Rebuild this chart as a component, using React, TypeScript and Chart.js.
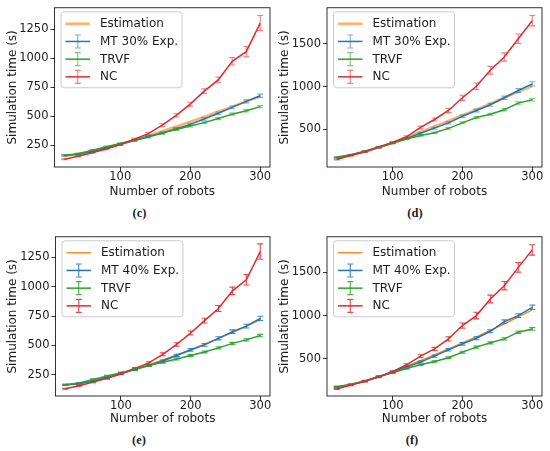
import React, { useEffect, useRef } from "react";
import { Chart, registerables } from "chart.js";

Chart.register(...registerables);

// ---------- data ----------
const robots = [20, 40, 60, 80, 100, 120, 140, 160, 180, 200, 220, 240, 260, 280, 300];
const xTicks = [100, 200, 300];
const yTicksSmall = [250, 500, 750, 1000, 1250];
const yTicksLarge = [500, 1000, 1500];

// (c)
const estC = [160, 177, 200, 228, 260, 295, 333, 372, 413, 455, 497, 540, 585, 630, 672];
const mtC = [165, 175, 198, 228, 260, 292, 323, 358, 395, 432, 478, 528, 578, 630, 678];
const mtErrC = [5, 5, 6, 6, 7, 7, 8, 8, 9, 10, 10, 11, 12, 13, 14];
const trvfC = [165, 180, 210, 240, 268, 297, 330, 357, 388, 418, 447, 482, 520, 550, 585];
const trvfErrC = [5, 5, 6, 6, 6, 7, 7, 7, 8, 8, 8, 9, 9, 10, 10];
const ncC = [132, 158, 188, 220, 258, 305, 352, 425, 509, 606, 718, 815, 975, 1058, 1304];
const ncErrC = [4, 5, 5, 6, 7, 8, 10, 12, 14, 17, 20, 25, 32, 45, 65];

// (d)
const estD = [160, 195, 240, 290, 345, 405, 470, 535, 600, 665, 730, 800, 870, 940, 1005];
const mtD = [170, 200, 240, 290, 345, 395, 455, 515, 577, 654, 721, 788, 869, 954, 1031];
const mtErrD = [6, 6, 7, 8, 9, 10, 11, 12, 13, 15, 16, 18, 20, 22, 25];
const trvfD = [178, 205, 245, 292, 340, 388, 430, 461, 512, 577, 639, 677, 730, 807, 846];
const trvfErrD = [6, 6, 7, 7, 8, 8, 9, 9, 10, 11, 12, 12, 13, 14, 15];
const ncD = [150, 198, 240, 296, 348, 414, 523, 616, 721, 869, 1003, 1190, 1345, 1558, 1768];
const ncErrD = [5, 6, 7, 8, 10, 12, 16, 18, 25, 30, 38, 45, 48, 55, 60];

// (e)
const estE = [160, 177, 200, 228, 260, 296, 335, 377, 420, 465, 512, 560, 610, 662, 720];
const mtE = [165, 175, 195, 225, 262, 295, 330, 368, 415, 462, 505, 561, 618, 665, 731];
const mtErrE = [5, 5, 6, 6, 7, 8, 8, 9, 10, 11, 12, 13, 15, 16, 18];
const trvfE = [165, 180, 210, 240, 268, 297, 330, 357, 385, 415, 445, 480, 518, 548, 585];
const trvfErrE = [5, 5, 6, 6, 6, 7, 7, 7, 8, 8, 8, 9, 9, 10, 10];
const ncE = [132, 158, 188, 220, 258, 305, 352, 425, 509, 606, 712, 815, 965, 1060, 1300];
const ncErrE = [4, 5, 5, 6, 7, 8, 10, 12, 14, 17, 20, 25, 32, 45, 65];

// (f)
const estF = [160, 195, 240, 292, 350, 412, 478, 545, 615, 685, 755, 830, 905, 985, 1065];
const mtF = [172, 200, 240, 290, 350, 405, 462, 531, 604, 673, 738, 819, 931, 1000, 1096];
const mtErrF = [6, 6, 7, 8, 9, 10, 11, 12, 14, 15, 17, 18, 20, 22, 25];
const trvfF = [178, 205, 245, 292, 340, 388, 431, 469, 512, 577, 635, 685, 731, 808, 846];
const trvfErrF = [6, 6, 7, 7, 8, 8, 9, 9, 10, 11, 12, 12, 13, 14, 15];
const ncF = [150, 196, 240, 295, 350, 431, 531, 615, 731, 885, 1000, 1192, 1346, 1558, 1760];
const ncErrF = [5, 6, 7, 8, 10, 12, 16, 18, 25, 30, 38, 45, 48, 55, 60];

// ---------- styling ----------
const FONT = "'DejaVu Sans', sans-serif";
const TEXT = "#1c1c1c";
const BLUE = "#1f77b4";
const GREEN = "#2ca02c";
const RED = "#e02a2e";
const LINE_W = 1.5;

type PanelDef = {
  caption: string;
  mtLabel: string;
  est: number[];
  mt: number[];
  mtErr: number[];
  trvf: number[];
  trvfErr: number[];
  nc: number[];
  ncErr: number[];
  yMin: number;
  yMax: number;
  yTicks: number[];
  left: number;
  top: number;
  width: number;
  height: number;
  yAxisWidth: number;
  xAxisHeight: number;
  padTop: number;
  padRight: number;
  yTitlePad: number;
  estColor: string;
  estWidth: number;
  errAlpha: number;
  captionX: number;
  captionY: number;
};

function rgba(hex: string, a: number) {
  const r = parseInt(hex.slice(1, 3), 16);
  const g = parseInt(hex.slice(3, 5), 16);
  const b = parseInt(hex.slice(5, 7), 16);
  return `rgba(${r},${g},${b},${a})`;
}

const panels: PanelDef[] = [
  {
    caption: "(c)", mtLabel: "MT 30% Exp.",
    est: estC, mt: mtC, mtErr: mtErrC, trvf: trvfC, trvfErr: trvfErrC, nc: ncC, ncErr: ncErrC,
    yMin: 65, yMax: 1436, yTicks: yTicksSmall,
    left: 0, top: 0, width: 275, height: 199, yAxisWidth: 54.5, xAxisHeight: 32, padTop: 7, padRight: 5, yTitlePad: 5.4,
    estColor: "rgba(255,127,14,0.6)", estWidth: 2.6, errAlpha: 0.6, captionX: 139.5, captionY: 213,
  },
  {
    caption: "(d)", mtLabel: "MT 30% Exp.",
    est: estD, mt: mtD, mtErr: mtErrD, trvf: trvfD, trvfErr: trvfErrD, nc: ncD, ncErr: ncErrD,
    yMin: 62, yMax: 1919, yTicks: yTicksLarge,
    left: 275, top: 0, width: 275, height: 199, yAxisWidth: 52, xAxisHeight: 32, padTop: 7, padRight: 8, yTitlePad: 2.7,
    estColor: "rgba(255,127,14,0.6)", estWidth: 2.6, errAlpha: 0.6, captionX: 415, captionY: 213,
  },
  {
    caption: "(e)", mtLabel: "MT 40% Exp.",
    est: estE, mt: mtE, mtErr: mtErrE, trvf: trvfE, trvfErr: trvfErrE, nc: ncE, ncErr: ncErrE,
    yMin: 70, yMax: 1426, yTicks: yTicksSmall,
    left: 0, top: 229, width: 275, height: 197, yAxisWidth: 55.5, xAxisHeight: 30, padTop: 7, padRight: 5, yTitlePad: 5.4,
    estColor: "#ff7f0e", estWidth: 1.3, errAlpha: 0.85, captionX: 139, captionY: 440,
  },
  {
    caption: "(f)", mtLabel: "MT 40% Exp.",
    est: estF, mt: mtF, mtErr: mtErrF, trvf: trvfF, trvfErr: trvfErrF, nc: ncF, ncErr: ncErrF,
    yMin: 70, yMax: 1912, yTicks: yTicksLarge,
    left: 275, top: 229, width: 275, height: 197, yAxisWidth: 52, xAxisHeight: 30, padTop: 7, padRight: 8, yTitlePad: 2.7,
    estColor: "#ff7f0e", estWidth: 1.3, errAlpha: 0.85, captionX: 412, captionY: 440,
  },
];

// ---------- plugins ----------
const CAP = 3;

const errorFramePlugin = {
  id: "errorFrame",
  afterDatasetsDraw(chart: any) {
    const ctx = chart.ctx;
    const xs = chart.scales.x;
    const ys = chart.scales.y;
    const area = chart.chartArea;
    ctx.save();
    ctx.beginPath();
    ctx.rect(area.left, area.top, area.right - area.left, area.bottom - area.top);
    ctx.clip();
    chart.data.datasets.forEach((ds: any) => {
      if (!ds.errors) return;
      ctx.strokeStyle = ds.errColor;
      ctx.lineWidth = 1.1;
      ds.data.forEach((p: any, i: number) => {
        const e = ds.errors[i];
        const x = xs.getPixelForValue(p.x);
        const y1 = ys.getPixelForValue(p.y + e);
        const y2 = ys.getPixelForValue(p.y - e);
        ctx.beginPath();
        ctx.moveTo(x, y1);
        ctx.lineTo(x, y2);
        ctx.moveTo(x - CAP, y1);
        ctx.lineTo(x + CAP, y1);
        ctx.moveTo(x - CAP, y2);
        ctx.lineTo(x + CAP, y2);
        ctx.stroke();
      });
    });
    ctx.restore();
    ctx.save();
    ctx.strokeStyle = TEXT;
    ctx.lineWidth = 0.9;
    ctx.strokeRect(area.left, area.top, area.right - area.left, area.bottom - area.top);
    ctx.restore();
  },
};

const legendPlugin = {
  id: "customLegend",
  afterDraw(chart: any) {
    const ctx = chart.ctx;
    const area = chart.chartArea;
    const bx = area.left + 6.5;
    const by = area.top + 4;
    const bw = 121;
    const bh = 76;
    const r = 3;
    ctx.save();
    ctx.beginPath();
    ctx.moveTo(bx + r, by);
    ctx.lineTo(bx + bw - r, by);
    ctx.quadraticCurveTo(bx + bw, by, bx + bw, by + r);
    ctx.lineTo(bx + bw, by + bh - r);
    ctx.quadraticCurveTo(bx + bw, by + bh, bx + bw - r, by + bh);
    ctx.lineTo(bx + r, by + bh);
    ctx.quadraticCurveTo(bx, by + bh, bx, by + bh - r);
    ctx.lineTo(bx, by + r);
    ctx.quadraticCurveTo(bx, by, bx + r, by);
    ctx.closePath();
    ctx.fillStyle = "rgba(255,255,255,0.85)";
    ctx.fill();
    ctx.strokeStyle = "#cccccc";
    ctx.lineWidth = 1;
    ctx.stroke();

    chart.data.datasets.forEach((ds: any, i: number) => {
      const cy = by + 12 + i * 17.7;
      const hx0 = bx + 4.5;
      const hx1 = bx + 29;
      ctx.strokeStyle = ds.borderColor;
      ctx.lineWidth = ds.borderWidth;
      ctx.beginPath();
      ctx.moveTo(hx0, cy);
      ctx.lineTo(hx1, cy);
      ctx.stroke();
      if (ds.errors) {
        const mx = (hx0 + hx1) / 2;
        ctx.strokeStyle = ds.errColor;
        ctx.lineWidth = 1.1;
        ctx.beginPath();
        ctx.moveTo(mx, cy - 6.5);
        ctx.lineTo(mx, cy + 6.5);
        ctx.moveTo(mx - CAP, cy - 6.5);
        ctx.lineTo(mx + CAP, cy - 6.5);
        ctx.moveTo(mx - CAP, cy + 6.5);
        ctx.lineTo(mx + CAP, cy + 6.5);
        ctx.stroke();
      }
      ctx.fillStyle = TEXT;
      ctx.font = `12px ${FONT}`;
      ctx.textAlign = "left";
      ctx.textBaseline = "middle";
      ctx.fillText(ds.label, bx + 39, cy + 0.5);
    });
    ctx.restore();
  },
};

// ---------- components ----------
function Panel({ def }: { def: PanelDef }) {
  const ref = useRef<HTMLCanvasElement | null>(null);

  useEffect(() => {
    if (!ref.current) return;
    const toXY = (ys: number[]) => robots.map((x, i) => ({ x, y: ys[i] }));
    const chart = new Chart(ref.current, {
      type: "line",
      data: {
        datasets: [
          {
            label: "Estimation",
            data: toXY(def.est),
            borderColor: def.estColor,
            borderWidth: def.estWidth,
            pointRadius: 0,
            fill: false,
            order: 4,
          },
          {
            label: def.mtLabel,
            data: toXY(def.mt),
            borderColor: BLUE,
            borderWidth: LINE_W,
            pointRadius: 0,
            fill: false,
            order: 3,
            errors: def.mtErr,
            errColor: rgba(BLUE, def.errAlpha),
          } as any,
          {
            label: "TRVF",
            data: toXY(def.trvf),
            borderColor: GREEN,
            borderWidth: LINE_W,
            pointRadius: 0,
            fill: false,
            order: 2,
            errors: def.trvfErr,
            errColor: rgba(GREEN, def.errAlpha),
          } as any,
          {
            label: "NC",
            data: toXY(def.nc),
            borderColor: RED,
            borderWidth: LINE_W,
            pointRadius: 0,
            fill: false,
            order: 1,
            errors: def.ncErr,
            errColor: rgba(RED, def.errAlpha),
          } as any,
        ],
      },
      options: {
        animation: false,
        responsive: false,
        events: [],
        layout: { padding: { top: def.padTop, right: def.padRight, left: 0, bottom: 0 } },
        plugins: {
          legend: { display: false },
          tooltip: { enabled: false },
        },
        scales: {
          x: {
            type: "linear",
            min: 6,
            max: 314,
            afterBuildTicks: (s: any) => {
              s.ticks = xTicks.map((v) => ({ value: v }));
            },
            afterFit: (s: any) => {
              s.height = def.xAxisHeight;
            },
            ticks: {
              font: { family: FONT, size: 11.5, lineHeight: 1 },
              color: TEXT,
              padding: 0,
              maxRotation: 0,
              autoSkip: false,
              callback: (v: any) => String(v),
            },
            grid: {
              drawOnChartArea: false,
              drawTicks: true,
              tickLength: 4,
              tickColor: TEXT,
              tickWidth: 0.9,
            },
            border: { display: false },
            title: {
              display: true,
              text: "Number of robots",
              font: { family: FONT, size: 12, lineHeight: 1.2 },
              color: TEXT,
              padding: { top: 0, bottom: 0 },
            },
          },
          y: {
            type: "linear",
            min: def.yMin,
            max: def.yMax,
            afterBuildTicks: (s: any) => {
              s.ticks = def.yTicks.map((v) => ({ value: v }));
            },
            afterFit: (s: any) => {
              s.width = def.yAxisWidth;
            },
            ticks: {
              font: { family: FONT, size: 11.5, lineHeight: 1 },
              color: TEXT,
              padding: 2,
              callback: (v: any) => String(v),
            },
            grid: {
              drawOnChartArea: false,
              drawTicks: true,
              tickLength: 4,
              tickColor: TEXT,
              tickWidth: 0.9,
            },
            border: { display: false },
            title: {
              display: true,
              text: "Simulation time (s)",
              font: { family: FONT, size: 12, lineHeight: 1.2 },
              color: TEXT,
              padding: { top: def.yTitlePad, bottom: 0 },
            },
          },
        },
      } as any,
      plugins: [errorFramePlugin, legendPlugin],
    });
    return () => chart.destroy();
  }, [def]);

  return (
    <>
      <canvas
        ref={ref}
        width={def.width}
        height={def.height}
        style={{
          position: "absolute",
          left: def.left,
          top: def.top,
          width: def.width,
          height: def.height,
        }}
      />
      <div
        style={{
          position: "absolute",
          left: def.captionX - 20,
          top: def.captionY - 8,
          width: 40,
          height: 16,
          lineHeight: "16px",
          textAlign: "center",
          fontFamily: "'Liberation Serif', serif",
          fontSize: 12.5,
          fontWeight: "bold",
          color: "#222",
        }}
      >
        {def.caption}
      </div>
    </>
  );
}

export default function App() {
  return (
    <div
      style={{
        position: "absolute",
        left: 0,
        top: 0,
        width: 550,
        height: 451,
        background: "#ffffff",
        overflow: "hidden",
      }}
    >
      {panels.map((p) => (
        <Panel key={p.caption} def={p} />
      ))}
    </div>
  );
}
